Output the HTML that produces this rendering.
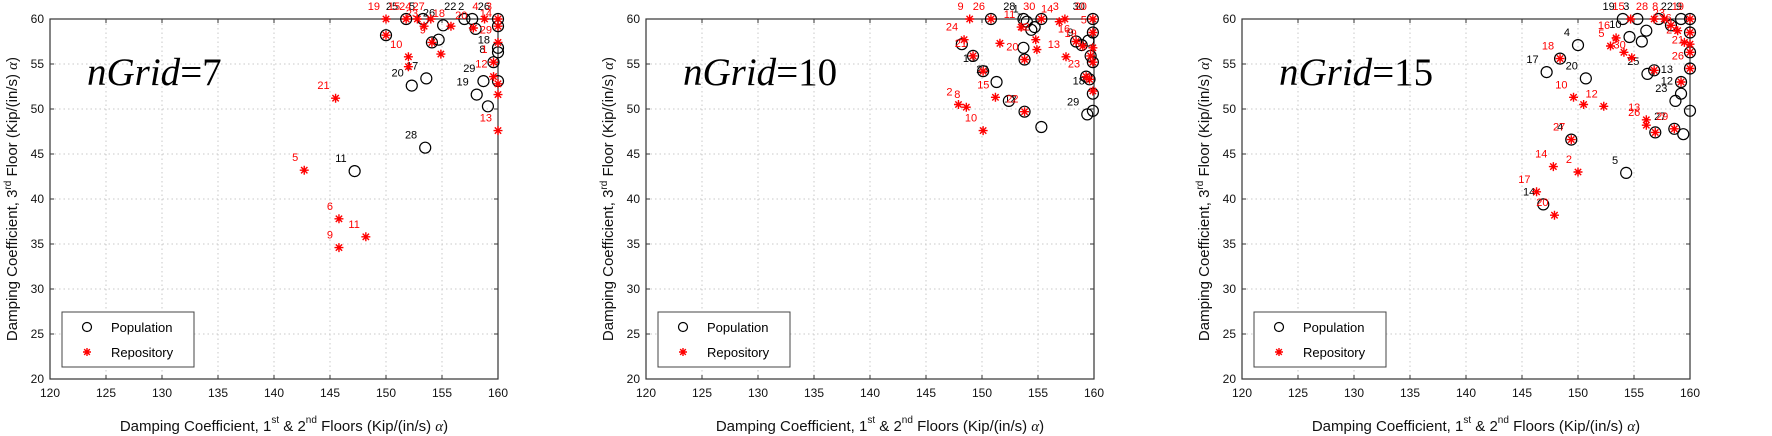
<!DOCTYPE html>
<html><head><meta charset="utf-8">
<style>
html,body{margin:0;padding:0;background:#fff;}
svg{display:block;font-family:"Liberation Sans",sans-serif;}
</style></head>
<body>
<svg id="chart" width="1772" height="436" viewBox="0 0 1772 436"></svg>
<script>
// ---- shared axis data ----
const xTicks = [120,125,130,135,140,145,150,155,160];
const yTicks = [20,25,30,35,40,45,50,55,60];
const panelTitles = ["7","10","15"];

// ---- panel 1 (nGrid=7) ----
const p1PopX = [147.2,153.5,152.3,153.6,154.7,155.1,154.1,151.8,153.3,150.0,157.0,157.7,158.0,158.7,158.1,159.1,160.0,160.0,160.0,160.0,159.6,160.0];
const p1PopY = [43.1,45.7,52.6,53.4,57.7,59.3,57.4,60.0,60.0,58.2,60.0,60.0,58.9,53.1,51.6,50.3,60.0,56.8,56.3,53.1,55.2,59.2];
const p1PopLbl = ["11","28","20","17","","26","","25","5","","22","2","","29","19","","26","","18","","8",""];
const p1RepX = [142.7,145.5,145.8,145.8,148.2,152.0,152.0,150.0,150.0,151.8,152.8,154.0,153.4,154.1,154.9,155.8,157.8,158.8,160.0,160.0,159.6,159.6,160.0,160.0,160.0,160.0];
const p1RepY = [43.2,51.2,37.8,34.6,35.8,55.8,54.7,58.2,60.0,60.0,60.0,60.0,59.2,57.4,56.1,59.2,59.0,60.0,59.2,57.4,55.2,53.6,52.8,51.6,47.6,60.0];
const p1RepLbl = ["5","21","6","9","11","10","","","19","15","24","27","23","9","","18","20","4","14","29","1","12","","","13","3"];

// ---- panel 2 (nGrid=10) ----
const p2PopX = [155.3,152.4,151.3,150.1,149.2,148.2,150.8,153.7,153.8,153.8,153.7,154.0,154.4,154.7,155.3,158.4,158.9,159.5,159.3,159.6,159.9,159.9,159.9,159.9,159.4,159.9,159.7];
const p2PopY = [48.0,50.9,53.0,54.2,55.9,57.2,60.0,56.8,55.5,49.7,60.0,59.7,58.8,59.1,60.0,57.5,57.1,57.6,53.6,53.3,60.0,58.5,55.2,51.7,49.4,49.8,55.9];
const p2PopLbl = ["","","23","13","","","","","","12","28","1","7","","","","9","","","","30","","","18","29","",""];
const p2RepX = [148.9,148.4,147.9,148.6,150.1,151.2,151.6,150.8,149.2,150.1,153.5,153.8,153.8,154.8,154.9,155.3,156.9,157.4,157.5,158.4,159.0,159.3,159.9,159.9,159.9,159.9,159.6,159.9,159.7];
const p2RepY = [60.0,57.7,50.5,50.2,47.6,51.3,57.3,60.0,55.9,54.2,59.1,55.5,49.7,57.7,56.6,60.0,59.7,60.0,55.8,57.5,57.0,53.6,60.0,58.5,55.2,56.8,53.3,52.0,55.9];
const p2RepLbl = ["9","24","2","8","10","15","","26","21","","11","20","22","12","","30","14","3","13","16","19","23","20","5","","","","",""];

// ---- panel 3 (nGrid=15) ----
const p3PopX = [147.2,150.0,150.7,149.4,146.9,154.3,148.4,154.0,155.3,154.6,155.7,156.1,156.2,156.8,157.2,156.9,158.6,159.4,158.7,159.2,159.2,159.2,160.0,160.0,160.0,160.0,160.0,158.3];
const p3PopY = [54.1,57.1,53.4,46.6,39.4,42.9,55.6,60.0,60.0,58.0,57.5,58.7,53.9,54.3,60.0,47.4,47.8,47.2,50.9,51.7,53.0,60.0,60.0,58.5,56.3,54.5,49.8,59.3];
const p3PopLbl = ["17","4","20","4","14","5","","19","3","10","","","25","","","","27","","23","12","13","22","9","","","","",""];
const p3RepX = [147.9,146.3,147.8,150.0,149.4,148.4,149.6,150.5,152.3,152.9,153.4,154.1,154.8,154.7,156.1,156.1,156.9,156.8,156.8,157.7,158.3,158.6,159.2,158.9,159.5,160.0,160.0,160.0,160.0,160.0];
const p3RepY = [38.2,40.8,43.6,43.0,46.6,55.6,51.3,50.5,50.3,57.0,57.9,56.3,55.7,60.0,48.8,48.2,47.4,54.3,60.0,60.0,59.3,47.8,53.0,58.7,57.4,60.0,58.5,57.2,56.3,54.5];
const p3RepLbl = ["20","17","14","2","27","18","10","","12","5","16","9","30","15","13","26","","","28","8","23","29","","6","24","19","","","21","26"];

const panels = [
  {left:50,  popX:p1PopX,popY:p1PopY,popL:p1PopLbl,repX:p1RepX,repY:p1RepY,repL:p1RepLbl},
  {left:646, popX:p2PopX,popY:p2PopY,popL:p2PopLbl,repX:p2RepX,repY:p2RepY,repL:p2RepLbl},
  {left:1242,popX:p3PopX,popY:p3PopY,popL:p3PopLbl,repX:p3RepX,repY:p3RepY,repL:p3RepLbl}
];

const NS = "http://www.w3.org/2000/svg";
const svg = document.getElementById("chart");
const W = 448, TOP = 19, BOT = 379;
function mk(tag, attrs, parent){
  const e = document.createElementNS(NS, tag);
  for (const k in attrs) e.setAttribute(k, attrs[k]);
  (parent||svg).appendChild(e);
  return e;
}
function star(g, cx, cy, r){
  let d = "";
  for (let i=0;i<4;i++){
    const a = i*Math.PI/4;
    const dx = r*Math.cos(a), dy = r*Math.sin(a);
    d += `M${cx-dx},${cy-dy}L${cx+dx},${cy+dy}`;
  }
  return mk("path",{d:d,stroke:"#ff0000","stroke-width":1.4,fill:"none"},g);
}

panels.forEach((p, pi) => {
  const L = p.left, R = L + W;
  const sx = v => L + (v-120)/40*W;
  const sy = v => BOT - (v-20)/40*(BOT-TOP);
  const g = mk("g",{});
  
  

  // grid
  const grid = mk("g",{},g);
  
  
  xTicks.forEach(t => { if(t>120&&t<160) mk("line",{x1:sx(t),x2:sx(t),y1:TOP,y2:BOT,stroke:"#c8c8c8","stroke-width":1,"stroke-dasharray":"1.5,3"},grid); });
  yTicks.forEach(t => { if(t>20&&t<60) mk("line",{x1:L,x2:R,y1:sy(t),y2:sy(t),stroke:"#c8c8c8","stroke-width":1,"stroke-dasharray":"1.5,3"},grid); });

  // axes box
  const box = mk("rect",{x:L,y:TOP,width:W,height:BOT-TOP,fill:"none",stroke:"#333","stroke-width":1.2},g);
  
  

  // ticks
  const xa = mk("g",{},g);
  
  
  xTicks.forEach(t => {
    mk("line",{x1:sx(t),x2:sx(t),y1:BOT,y2:BOT-4,stroke:"#333"},xa);
    mk("line",{x1:sx(t),x2:sx(t),y1:TOP,y2:TOP+4,stroke:"#333"},xa);
    const tx = mk("text",{x:sx(t),y:BOT+18,"font-size":12,"text-anchor":"middle",fill:"#111"},xa);
    tx.textContent = t;
    
    
  });
  const ya = mk("g",{},g);
  
  
  yTicks.forEach(t => {
    mk("line",{x1:L,x2:L+4,y1:sy(t),y2:sy(t),stroke:"#333"},ya);
    mk("line",{x1:R,x2:R-4,y1:sy(t),y2:sy(t),stroke:"#333"},ya);
    const ty = mk("text",{x:L-6,y:sy(t)+4,"font-size":12,"text-anchor":"end",fill:"#111"},ya);
    ty.textContent = t;
    
    
  });

  // axis titles
  const yt = mk("text",{x:0,y:0,"font-size":15,"text-anchor":"middle",fill:"#111",transform:`translate(${L-33},199) rotate(-90)`},g);
  yt.innerHTML = 'Damping Coefficient, 3<tspan dy="-6" font-size="10">rd</tspan><tspan dy="6"> Floor (Kip/(in/s) </tspan><tspan font-family="Liberation Serif" font-style="italic">α</tspan>)';
  
  
  const xt = mk("text",{x:L+W/2+10,y:431,"font-size":15,"text-anchor":"middle",fill:"#111"},g);
  xt.innerHTML = 'Damping Coefficient, 1<tspan dy="-8" font-size="10">st</tspan><tspan dy="8"> &amp; 2</tspan><tspan dy="-8" font-size="10">nd</tspan><tspan dy="8">  Floors (Kip/(in/s) </tspan><tspan font-family="Liberation Serif" font-style="italic">α</tspan>)';
  
  

  // panel title
  const pt = mk("text",{x:L+37,y:85,"font-size":39,"font-family":"Liberation Serif",fill:"#000"},g);
  pt.innerHTML = '<tspan font-style="italic">nGrid</tspan>=' + panelTitles[pi];
  
  

  // population
  const pg = mk("g",{},g);
  
  
  p.popX.forEach((v,i) => {
    const c = mk("circle",{cx:sx(v),cy:sy(p.popY[i]),r:5.5,fill:"none",stroke:"#000","stroke-width":1.2},pg);
    
    
    if (p.popL[i]) {
      const lt = mk("text",{x:sx(v)-8,y:sy(p.popY[i])-9,"font-size":11,"text-anchor":"end",fill:"#000"},pg);
      lt.textContent = p.popL[i];
      
      
    }
  });
  // repository
  const rg = mk("g",{},g);
  
  
  p.repX.forEach((v,i) => {
    const s = star(rg, sx(v), sy(p.repY[i]), 4.5);
    
    
    if (p.repL[i]) {
      const lt = mk("text",{x:sx(v)-6,y:sy(p.repY[i])-9,"font-size":11,"text-anchor":"end",fill:"#ff0000"},rg);
      lt.textContent = p.repL[i];
      
      
    }
  });

  // legend
  const lg = mk("g",{},g);
  
  
  mk("rect",{x:L+12,y:312,width:132,height:55,fill:"#fff",stroke:"#444","stroke-width":1},lg);
  const e1 = mk("g",{},lg);
  
  
  mk("circle",{cx:L+37,cy:327,r:4.5,fill:"none",stroke:"#000","stroke-width":1.2},e1);
  const t1 = mk("text",{x:L+61,y:332,"font-size":13,fill:"#000"},e1); t1.textContent="Population";
  const e2 = mk("g",{},lg);
  
  
  star(e2, L+37, 352, 4);
  const t2 = mk("text",{x:L+61,y:357,"font-size":13,fill:"#000"},e2); t2.textContent="Repository";
});
</script>
</body></html>
